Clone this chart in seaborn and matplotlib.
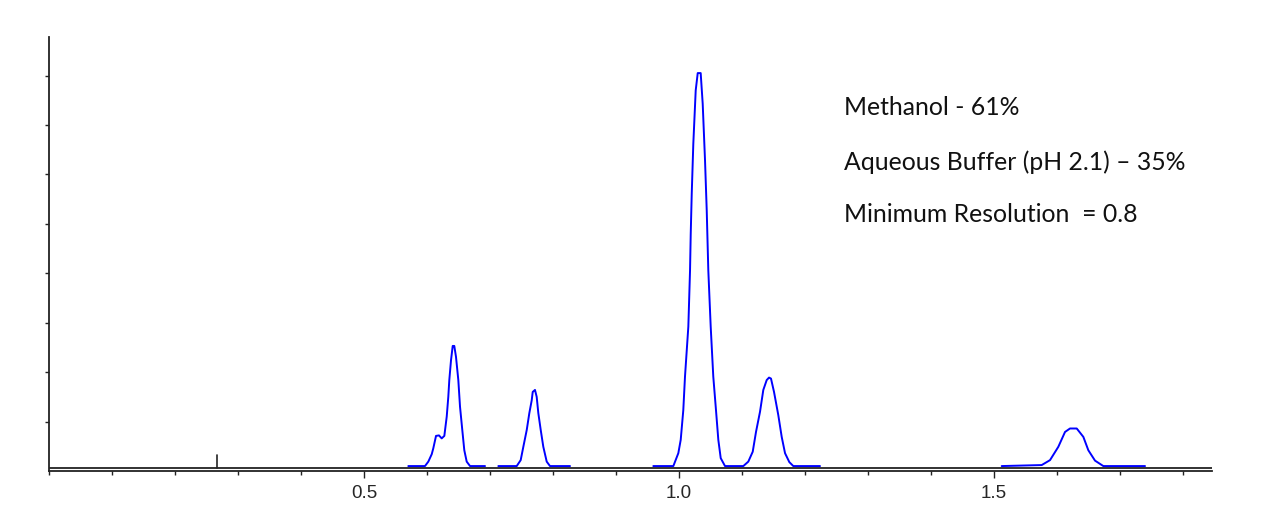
import numpy as np
import pandas as pd
import seaborn as sns
import matplotlib.pyplot as plt

# chromatogram trace (time, signal) - one list per blue segment
seg1_t = [0.5703, 0.5968, 0.6021, 0.6075, 0.6100, 0.6143, 0.6190, 0.6233, 0.6275, 0.6313, 0.6338, 0.6354,
          0.6381, 0.6408, 0.6433, 0.6460, 0.6497, 0.6524, 0.6560, 0.6592, 0.6630, 0.6683, 0.6921]
seg1_y = [0.10, 0.10, 0.19, 0.34, 0.46, 0.71, 0.72, 0.66, 0.71, 1.10, 1.50, 1.84,
          2.24, 2.53, 2.53, 2.31, 1.84, 1.30, 0.83, 0.42, 0.19, 0.10, 0.10]

seg2_t = [0.7132, 0.7424, 0.7487, 0.7529, 0.7583, 0.7624, 0.7662, 0.7678, 0.7714, 0.7741, 0.7767, 0.7805,
          0.7846, 0.7900, 0.7952, 0.8270]
seg2_y = [0.10, 0.10, 0.22, 0.49, 0.83, 1.17, 1.43, 1.60, 1.64, 1.50, 1.17, 0.83,
          0.49, 0.19, 0.10, 0.10]

seg3_t = [0.9592, 0.9910, 0.9989, 1.0027, 1.0068, 1.0095, 1.0148, 1.0175, 1.0186, 1.0202, 1.0227, 1.0265,
          1.0297, 1.0344, 1.0376, 1.0413, 1.0440, 1.0465, 1.0503, 1.0544, 1.0587, 1.0624, 1.0662, 1.0730,
          1.1021, 1.1100, 1.1170, 1.1222, 1.1286, 1.1338, 1.1392, 1.1429, 1.1460, 1.1508, 1.1576, 1.1630,
          1.1683, 1.1751, 1.1814, 1.2238]
seg3_y = [0.10, 0.10, 0.36, 0.63, 1.23, 1.91, 2.92, 4.06, 4.80, 5.61, 6.62, 7.70,
          8.05, 8.05, 7.43, 6.28, 5.27, 4.06, 2.92, 1.91, 1.23, 0.63, 0.26, 0.10,
          0.10, 0.19, 0.39, 0.79, 1.20, 1.64, 1.84, 1.89, 1.87, 1.60, 1.13, 0.69,
          0.36, 0.18, 0.10, 0.10]

seg4_t = [1.5122, 1.5757, 1.5889, 1.6021, 1.6127, 1.6206, 1.6313, 1.6418, 1.6497, 1.6603, 1.6735, 1.7397]
seg4_y = [0.10, 0.12, 0.22, 0.49, 0.79, 0.86, 0.86, 0.69, 0.42, 0.21, 0.10, 0.10]

baseline_t = [0.0, 1.846]
baseline_y = [0.07, 0.07]
t0_mark = 0.266

notes = ["Methanol - 61%", "Aqueous Buffer (pH 2.1) \u2013 35%", "Minimum Resolution  = 0.8"]

df = pd.concat([
    pd.DataFrame({"t": seg1_t, "y": seg1_y, "seg": 1}),
    pd.DataFrame({"t": seg2_t, "y": seg2_y, "seg": 2}),
    pd.DataFrame({"t": seg3_t, "y": seg3_y, "seg": 3}),
    pd.DataFrame({"t": seg4_t, "y": seg4_y, "seg": 4}),
])

sns.set_style("ticks")
plt.rcParams['font.family'] = ['Liberation Sans', 'DejaVu Sans']

fig = plt.figure(figsize=(12.68, 5.32), dpi=100)
ax = fig.add_axes([49 / 1268, 61 / 532, (1212 - 49) / 1268, (471 - 37) / 532])

sns.lineplot(x=baseline_t, y=baseline_y, color="#222222", linewidth=1.3, ax=ax)
sns.lineplot(data=df, x="t", y="y", units="seg", estimator=None, sort=False,
             color="#0000ff", linewidth=1.4, ax=ax)
ax.plot([t0_mark, t0_mark], [0.07, 0.32], color="#222222", linewidth=1.2)

ax.set_xlim(0, 1.846)
ax.set_ylim(0, 8.78)
ax.set_xticks([0.5, 1.0, 1.5])
ax.set_xticks(np.arange(0, 1.85, 0.1), minor=True)
ax.set_yticks(np.arange(1, 9))
ax.set_yticklabels([])
ax.tick_params(axis="x", which="major", length=5, width=1, labelsize=13.5, pad=5, color="#222222")
ax.tick_params(axis="x", which="minor", length=3, width=1, color="#222222")
ax.tick_params(axis="y", length=3, width=1, color="#222222")
ax.set_xlabel("")
ax.set_ylabel("")
sns.despine(ax=ax)
for s in ["left", "bottom"]:
    ax.spines[s].set_color("#222222")
    ax.spines[s].set_linewidth(1.3)

for i, txt in enumerate(notes):
    ax.text(0.684, [0.820, 0.6935, 0.574][i], txt, transform=ax.transAxes,
            fontsize=17.8, family=["Lato", "DejaVu Sans"], va="baseline", ha="left", color="#111111")

fig.savefig("out.png", dpi=100)
